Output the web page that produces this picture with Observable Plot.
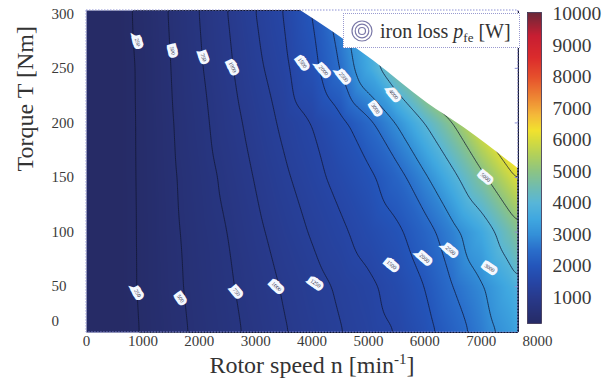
<!DOCTYPE html>
<html><head><meta charset="utf-8">
<script src="https://cdn.jsdelivr.net/npm/d3@7"></script>
<script src="https://cdn.jsdelivr.net/npm/@observablehq/plot@0.6"></script>
<style>
body{margin:0;background:#fff;}
#wrap{position:relative;width:611px;height:388px;font-family:"Liberation Serif",serif;overflow:hidden;}
#wrap svg{font-family:"Liberation Serif",serif !important;}
#wrap svg text{font-family:"Liberation Serif",serif !important;}
#main{position:absolute;left:0;top:0;}
#cbar{position:absolute;left:500px;top:0;}
#legend{position:absolute;left:343px;top:13px;width:175px;height:33px;border:1px dotted #9a9ad0;background:#fff;display:flex;align-items:center;font-size:20px;color:#333;line-height:1;box-sizing:content-box;}
#legend sub{font-size:13px;vertical-align:-4px;line-height:0;}
</style>
</head><body>
<div id="wrap"><div id="main"></div><div id="cbar"></div>
<div id="legend"><svg width="24" height="24" style="margin-left:6px;margin-right:6px;flex:none"><circle cx="12" cy="12" r="3.5" fill="none" stroke="#7a78a8" stroke-width="1.2"/><circle cx="12" cy="12" r="6.8" fill="none" stroke="#7a78a8" stroke-width="1.2"/><circle cx="12" cy="12" r="10" fill="none" stroke="#7a78a8" stroke-width="1.2"/></svg><span>iron loss <i>p</i><sub>fe</sub> [W]</span></div>
</div>
<script>
// ---- data ----
const speedGrid = [0,500,1000,1500,2000,2500,3000,3500,4000,4500,5000,5500,6000,6500,7000,7500,8000];
const torqueGrid = [0,50,100,150,200,250,303];
const loss_T0   = [0,132,265,412,550,675,812,969,1100,1225,1350,1475,1786,2200,2667,3133,3800];
const loss_T50  = [0,139,281,438,579,711,867,1026,1158,1289,1421,1643,2000,2500,2917,3571,4300];
const loss_T100 = [0,139,283,450,603,750,942,1113,1274,1435,1650,1900,2300,2800,3500,4500,5700];
const loss_T150 = [0,139,286,464,633,812,1019,1204,1389,1611,1889,2300,2875,3800,4800,5800,6800];
const loss_T200 = [0,139,288,481,673,886,1100,1300,1500,1857,2375,3000,4000,5000,6180,7090,8000];
const loss_T250 = [0,139,292,500,716,952,1182,1409,1833,2500,3500,4750,6000,6800,7500,8200,8800];
const loss_T303 = [0,147,312,523,750,1000,1250,1500,2000,2833,4000,5000,6000,6800,7500,8200,8800];
const lossRows = [loss_T0,loss_T50,loss_T100,loss_T150,loss_T200,loss_T250,loss_T303];

// maximum torque envelope (above it: no operating points)
const envelopeSpeed  = [3796,4381,5091,6049,6687,7660];
const envelopeTorque = [303,283,257,218,196,158];

const contourLevels = [250,500,750,1000,1250,1500,2000,2500,3000,4000,5000,6000];
const labelSpeed  = [905,1525,2075,2590,3831,4204,4559,5126,5446,7078, 905,1667,2661,3370,4062,5410,5996,6457,7149];
const labelTorque = [274,266,260,251,255,248,242,213,226,150, 44,39,45,50,53,70,76,83,67];
const labelText   = ["250","500","750","1000","1500","2000","2500","3000","4000","5000","250","500","750","1000","1250","1500","2000","2500","3000"];
const labelAngle  = [75,75,70,65,55,50,50,55,50,40, 60,55,50,45,35,40,40,40,35];

const speedTicks = [0,1000,2000,3000,4000,5000,6000,7000,8000];
const torqueTicks = [50,100,150,200,250,300];
const colorbarTicks = [1000,2000,3000,4000,5000,6000,7000,8000,9000,10000];

const colorStops = [170,1000,1500,2000,2500,3000,3500,4000,4500,5000,5500,6000,6300,6800,7300,8000,8600,9300,10050];
const colorHex   = ["#262b66","#283a8c","#2646a6","#2456bb","#2a6ecb","#3490d8","#40a8e0","#58b6d8","#70bcb0","#8cc484","#b0d05c","#d8dc3c","#f2e22e","#f4b83a","#ee8a34","#e6502c","#dc2c2c","#c81e32","#6a2838"];

const yTitle = "Torque T [Nm]";
const xTitleMain = "Rotor speed n [min", xTitleSup = "-1", xTitleEnd = "]";
const xTitle = xTitleMain + xTitleSup + xTitleEnd;

// ---- build tables ----
const nEdge = 7660, yMin = 8, yMax = 303;
const font = "Liberation Serif";
const field = [];
torqueGrid.forEach((T, i) => speedGrid.forEach((n, j) => field.push({n, T, p: lossRows[i][j]})));
const envelope = envelopeSpeed.map((n, i) => ({n, T: envelopeTorque[i]}));
const labels = labelSpeed.map((n, i) => ({n, T: labelTorque[i], text: labelText[i], angle: labelAngle[i]}));
const colorScale = {type: "linear", domain: colorStops, range: colorHex, clamp: true};

const chart = Plot.plot({
  width: 611, height: 388,
  marginLeft: 86, marginRight: 74, marginTop: 10, marginBottom: 56,
  x: {domain: [0, 8000]},
  y: {domain: [yMin, yMax]},
  color: colorScale,
  style: {fontFamily: font, fontSize: "15px", color: "#3a3a3a", background: "white"},
  marks: [
    Plot.raster(field, {x: "n", y: "T", fill: "p", interpolate: "barycentric", x1: 0, x2: nEdge, y1: yMin, y2: yMax, pixelSize: 1}),
    Plot.contour(field, {x: "n", y: "T", value: "p", interpolate: "barycentric", thresholds: contourLevels, blur: 2,
      x1: 0, x2: nEdge, y1: yMin, y2: yMax, fill: "none", stroke: "#101630", strokeWidth: 1, strokeOpacity: 0.75}),
    Plot.areaY(envelope, {x: "n", y1: "T", y2: yMax, fill: "white", curve: "monotone-x"}),
    Plot.text(labels, {x: "n", y: "T", text: "text", rotate: "angle", fontSize: 5.5, fontFamily: font, fill: "#2a2a40",
      stroke: "#f4f8ff", strokeWidth: 6, strokeLinejoin: "miter"}),
    Plot.rect([0], {x1: 0, x2: nEdge, y1: yMin, y2: yMax, fill: "none", stroke: "#8c90d4", strokeWidth: 1, strokeDasharray: "1.5,1.5"}),
    Plot.ruleY(torqueTicks, {y: d => d, x1: nEdge - 55, x2: nEdge, stroke: "#8c90d4"}),
    Plot.axisX({ticks: speedTicks, tickSize: 0, tickPadding: 3, tickFormat: d => String(d), label: null, fontFamily: font}),
    Plot.axisY({ticks: torqueTicks, tickSize: 0, tickPadding: 35, textAnchor: "start", tickFormat: d => String(d), label: null, fontFamily: font}),
    Plot.text(["0"], {frameAnchor: "bottom-left", dx: -35, dy: -7, textAnchor: "start", text: d => d, fontFamily: font}),
    Plot.text([yTitle], {frameAnchor: "left", rotate: -90, dx: -61, fontSize: 24, fontFamily: font, fill: "#333", text: d => d}),
    Plot.text([xTitle], {frameAnchor: "bottom", dy: 40, fontSize: 24, fontFamily: font, fill: "#333", text: d => d})
  ]
});
document.getElementById("main").appendChild(chart);

// superscript for the x title
d3.select(chart).selectAll("text").filter(function() { return this.textContent === xTitle; }).each(function() {
  const t = d3.select(this);
  t.text(xTitleMain);
  t.append("tspan").attr("dy", -9).attr("font-size", "15px").text(xTitleSup);
  t.append("tspan").attr("dy", 9).text(xTitleEnd);
});

const cbMin = 170, cbMax = 10050;
const cbar = Plot.plot({
  width: 111, height: 388,
  marginLeft: 27, marginRight: 70, marginTop: 12, marginBottom: 65,
  x: {domain: [0, 1], axis: null},
  y: {domain: [cbMin, cbMax]},
  color: colorScale,
  style: {fontFamily: font, fontSize: "19.5px", color: "#3a3a3a", background: "transparent", overflow: "visible"},
  marks: [
    Plot.raster({fill: (x, y) => y, x1: 0, x2: 1, y1: cbMin, y2: cbMax, pixelSize: 1}),
    Plot.frame({stroke: "#3a3050", strokeWidth: 0.8}),
    Plot.axisY({anchor: "right", ticks: colorbarTicks, tickSize: 0, tickPadding: 11, tickFormat: d => String(d), label: null, fontFamily: font})
  ]
});
document.getElementById("cbar").appendChild(cbar);
</script>
</body></html>
